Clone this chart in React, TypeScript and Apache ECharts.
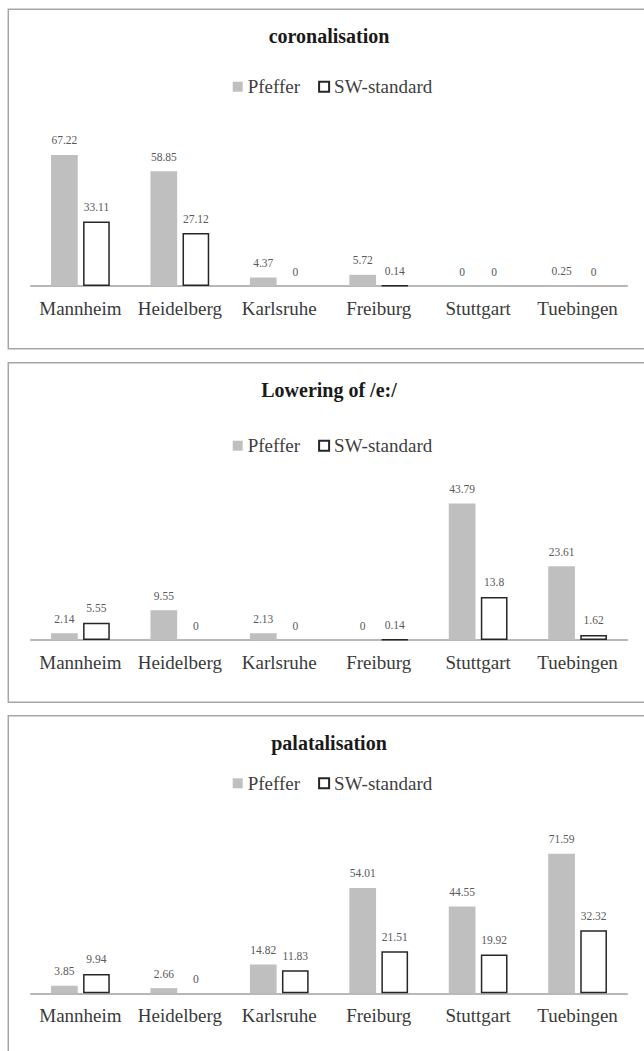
import React, { useEffect, useRef } from "react";
import * as echarts from "echarts";

const categories = ["Mannheim", "Heidelberg", "Karlsruhe", "Freiburg", "Stuttgart", "Tuebingen"];
const seriesNames = ["Pfeffer", "SW-standard"];
const chartTitles = ["coronalisation", "Lowering of /e:/", "palatalisation"];

const pfefferCoronalisation = [67.22, 58.85, 4.37, 5.72, 0, 0.25];
const swCoronalisation = [33.11, 27.12, 0, 0.14, 0, 0];

const pfefferLowering = [2.14, 9.55, 2.13, 0, 43.79, 23.61];
const swLowering = [5.55, 0, 0, 0.14, 13.8, 1.62];

const pfefferPalatalisation = [3.85, 2.66, 14.82, 54.01, 44.55, 71.59];
const swPalatalisation = [9.94, 0, 11.83, 21.51, 19.92, 32.32];

const axisMax = [80, 50, 80];

const FONT = "Liberation Serif";

const panels = [
  { top: 9.3, titleY: 36, legendY: 86.7, baseline: 286 },
  { top: 362.7, titleY: 390, legendY: 445.7, baseline: 640 },
  { top: 715.7, titleY: 742.7, legendY: 783.3, baseline: 993.3 },
];

const GRID_LEFT = 30.7;
const GRID_WIDTH = 596.6;
const GRID_HEIGHT = 156;

export default function App() {
  const ref = useRef<HTMLDivElement>(null);

  useEffect(() => {
    if (!ref.current) return;
    const chart = echarts.init(ref.current, null, { renderer: "svg" });
    const data = [
      [pfefferCoronalisation, swCoronalisation],
      [pfefferLowering, swLowering],
      [pfefferPalatalisation, swPalatalisation],
    ];

    const labelCfg = {
      show: true,
      position: "top",
      distance: 8.5,
      fontFamily: FONT,
      fontSize: 11.5,
      color: "#595959",
    };

    const series: any[] = [];
    data.forEach((pair, i) => {
      series.push({
        name: seriesNames[0],
        type: "bar",
        xAxisIndex: i,
        yAxisIndex: i,
        data: pair[0],
        barWidth: 26.7,
        barGap: "20%",
        itemStyle: { color: "#bfbfbf" },
        label: labelCfg,
      });
      series.push({
        name: seriesNames[1],
        type: "bar",
        xAxisIndex: i,
        yAxisIndex: i,
        data: pair[1].map((v) =>
          v === 0 ? { value: v, itemStyle: { borderWidth: 0 } } : v
        ),
        barWidth: 26.7,
        barGap: "20%",
        itemStyle: { color: "#ffffff", borderColor: "#262626", borderWidth: 1.5 },
        label: labelCfg,
      });
    });

    chart.setOption({
      animation: false,
      backgroundColor: "#ffffff",
      textStyle: { fontFamily: FONT },
      title: panels.map((p, i) => ({
        text: chartTitles[i],
        left: 329,
        textAlign: "center",
        top: p.titleY - 12,
        padding: 0,
        textStyle: {
          fontFamily: FONT,
          fontSize: 20,
          fontWeight: "bold",
          color: "#1a1a1a",
          lineHeight: 24,
        },
      })),
      legend: panels.map((p) => ({
        data: seriesNames,
        left: 232.7,
        top: p.legendY - 10,
        padding: 0,
        itemWidth: 10,
        itemHeight: 10,
        itemGap: 18,
        icon: "rect",
        selectedMode: false,
        textStyle: { fontFamily: FONT, fontSize: 19, color: "#404040", lineHeight: 20 },
      })),
      grid: panels.map((p) => ({
        left: GRID_LEFT,
        width: GRID_WIDTH,
        top: p.baseline - GRID_HEIGHT,
        height: GRID_HEIGHT,
      })),
      xAxis: panels.map((_, i) => ({
        type: "category",
        gridIndex: i,
        data: categories,
        axisLine: { show: true, lineStyle: { color: "#a0a0a0", width: 1.5 } },
        axisTick: { show: false },
        axisLabel: { margin: 13, fontFamily: FONT, fontSize: 19, color: "#3a3a3a", interval: 0 },
        splitLine: { show: false },
      })),
      yAxis: panels.map((_, i) => ({
        type: "value",
        gridIndex: i,
        min: 0,
        max: axisMax[i],
        show: false,
        splitLine: { show: false },
      })),
      graphic: panels.map((p) => ({
        type: "rect",
        silent: true,
        z: -10,
        shape: { x: 8.3, y: p.top, width: 660, height: 339.5 },
        style: { fill: "none", stroke: "#a6a6a6", lineWidth: 1.5 },
      })),
      series,
    });

    return () => chart.dispose();
  }, []);

  return (
    <div
      ref={ref}
      style={{ position: "absolute", left: 0, top: 0, width: 644, height: 1051 }}
    />
  );
}
